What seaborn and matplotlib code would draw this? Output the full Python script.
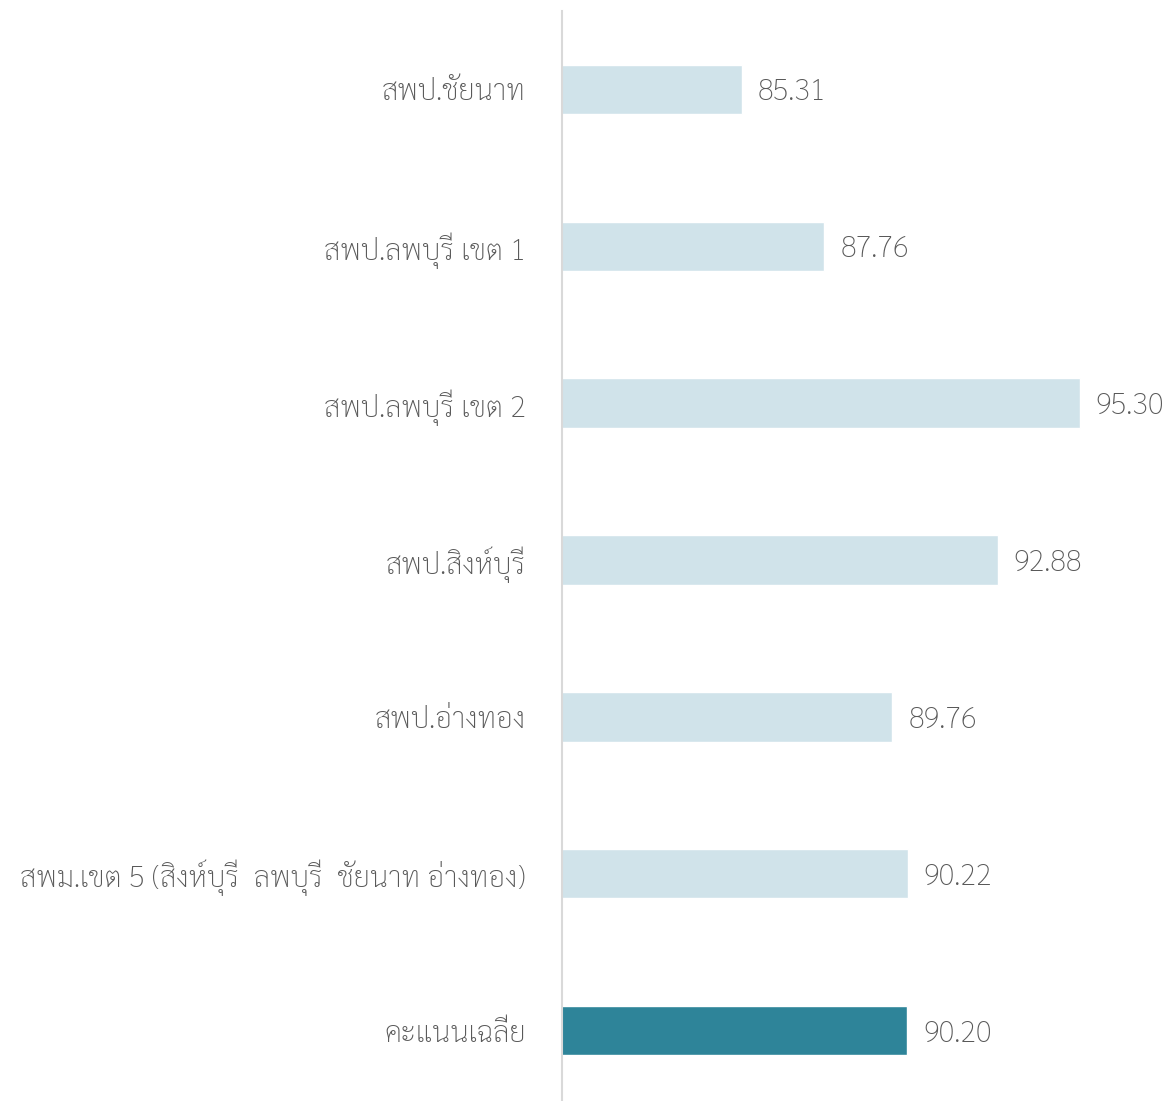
import numpy as np
import pandas as pd
import matplotlib
matplotlib.use("Agg")
import matplotlib.pyplot as plt
import seaborn as sns

categories = [
    "สพป.ชัยนาท",
    "สพป.ลพบุรี เขต 1",
    "สพป.ลพบุรี เขต 2",
    "สพป.สิงห์บุรี",
    "สพป.อ่างทอง",
    "สพม.เขต 5 (สิงห์บุรี  ลพบุรี  ชัยนาท อ่างทอง)",
    "คะแนนเฉลี่ย",
]
scores = [85.31, 87.76, 95.30, 92.88, 89.76, 90.22, 90.20]
is_average = [False, False, False, False, False, False, True]

LIGHT = "#d0e3ea"
DARK = "#2e8499"
TEXT = "#595959"

sns.set_theme(style="white")
plt.rcParams["font.family"] = ["Sarabun", "Noto Sans Thai", "DejaVu Sans"]
plt.rcParams["font.weight"] = "light"

df = pd.DataFrame({"cat": categories, "score": scores,
                   "kind": ["avg" if a else "area" for a in is_average]})

fig = plt.figure(figsize=(11.71, 11.01), dpi=100)
ax = fig.add_axes([562 / 1171, 1 - 1109 / 1101, (1110 - 562) / 1171, (1109 - 11) / 1101])

sns.barplot(data=df, y="cat", x="score", hue="kind",
            palette={"area": LIGHT, "avg": DARK}, dodge=False, saturation=1,
            width=0.315, legend=False, ax=ax)

ax.set_xlim(80, 96.2)
ax.set_ylim(6.5, -0.5)
ax.set_xlabel("")
ax.set_ylabel("")
ax.set_xticks([])
for s in ["top", "right", "bottom"]:
    ax.spines[s].set_visible(False)
ax.spines["left"].set_color("#d9d9d9")
ax.spines["left"].set_linewidth(1.5)
ax.tick_params(axis="y", length=0, pad=26, labelsize=21, labelcolor=TEXT)
for lbl in ax.get_yticklabels():
    lbl.set_verticalalignment("center_baseline")

for i, v in enumerate(scores):
    ax.annotate(f"{v:.2f}", (v, i), xytext=(11.5, 0), textcoords="offset points",
                va="center_baseline", ha="left", fontsize=21, color=TEXT)

fig.savefig("out.png", dpi=100)
